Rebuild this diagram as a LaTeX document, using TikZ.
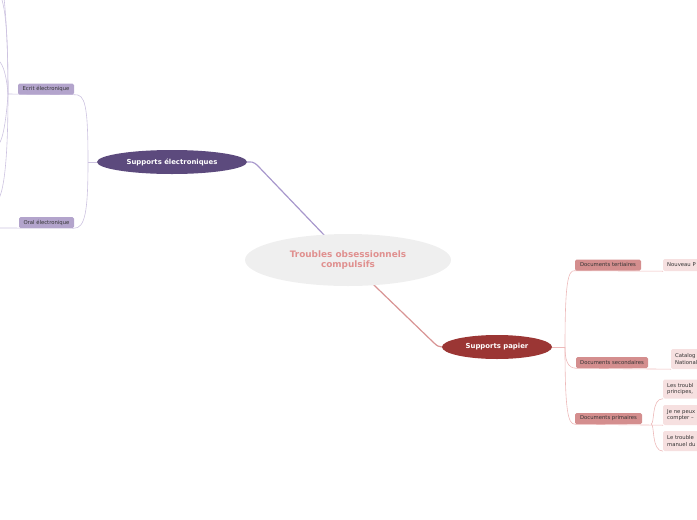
\documentclass[tikz,border=0pt]{standalone}
\usepackage{fontspec}
\setmainfont{DejaVu Sans}
\usetikzlibrary{shapes.geometric,backgrounds}
\definecolor{rootfill}{HTML}{EFEFEF}
\definecolor{roottext}{HTML}{E0908F}
\definecolor{purpmain}{HTML}{5C4A7D}
\definecolor{purpbox}{HTML}{B3A4CC}
\definecolor{purpline}{HTML}{CDC3E0}
\definecolor{purptrunk}{HTML}{A898CC}
\definecolor{redmain}{HTML}{9B3634}
\definecolor{rosebox}{HTML}{D48E8E}
\definecolor{pinkbox}{HTML}{F6E0E0}
\definecolor{roseline}{HTML}{EDBABA}
\definecolor{rosetrunk}{HTML}{D89494}
\definecolor{labeltext}{HTML}{333333}
\tikzset{
  rootnode/.style={ellipse,fill=rootfill,inner sep=0pt,minimum width=206pt,minimum height=52pt,
    align=center,text=roottext,font=\fontsize{8.9}{10}\selectfont\bfseries},
  mainnode/.style={ellipse,inner sep=0pt,minimum height=24pt,text=white,
    font=\fontsize{6.9}{8}\selectfont\bfseries},
  subbox/.style={rounded corners=1.5pt,inner sep=0pt,minimum height=11pt,text=labeltext,
    font=\fontsize{5.3}{6}\selectfont},
  leafbox/.style={rounded corners=1.5pt,anchor=west,inner xsep=4pt,inner ysep=0pt,
    text width=60pt,align=left,text=labeltext,font=\fontsize{5.3}{6.6}\selectfont},
  pline/.style={draw=purpline,line width=0.6pt},
  rline/.style={draw=roseline,line width=0.6pt},
}
\begin{document}
\begin{tikzpicture}[x=1pt,y=-1pt]
\useasboundingbox (0,0) rectangle (697,520);
\clip (0,0) rectangle (697,520);
% nodes
\node[rootnode] (root) at (348,260) {Troubles obsessionnels\\compulsifs};
\node[mainnode,fill=purpmain,minimum width=150pt] (se) at (172,162) {Supports électroniques};
\node[mainnode,fill=redmain,minimum width=110pt] (sp) at (497,347) {Supports papier};
\node[subbox,fill=purpbox,minimum width=56pt] (ecrit) at (46,89) {Ecrit électronique};
\node[subbox,fill=purpbox,minimum width=55pt] (oral) at (46.5,222.5) {Oral électronique};
\node[subbox,fill=rosebox,minimum width=66pt] (tert) at (608,265) {Documents tertiaires};
\node[subbox,fill=rosebox,minimum width=72pt] (sec) at (612,362.5) {Documents secondaires};
\node[subbox,fill=rosebox,minimum width=67pt] (prim) at (608.5,418.5) {Documents primaires};
\node[leafbox,fill=pinkbox,minimum height=12pt] (np) at (663,265) {Nouveau P};
\node[leafbox,fill=pinkbox,minimum height=20pt] (cat) at (671,359) {Catalog\\National};
\node[leafbox,fill=pinkbox,minimum height=19pt] (c1) at (663,389) {Les troubl\\principes,};
\node[leafbox,fill=pinkbox,minimum height=20pt] (c2) at (663,415) {Je ne peux\\compter –};
\node[leafbox,fill=pinkbox,minimum height=20pt] (c3) at (663,441) {Le trouble\\manuel du};
% free ends and junctions
\coordinate (eb) at (258,166);
\coordinate (pb) at (433,342);
\coordinate (lj) at (88,162);
\coordinate (ej) at (8,94);
\coordinate (oj) at (0,228);
\coordinate (rj) at (565,347);
\coordinate (pj) at (651,424);
\coordinate (e1) at (-2,-40);
\coordinate (e2) at (1,-3);
\coordinate (e3) at (-2,60);
\coordinate (e4) at (-2,145);
\coordinate (e5) at (-2,200);
\begin{pgfonlayer}{background}
  % trunks
  \draw[purptrunk,line width=1.2pt] (root.center) -- (eb) .. controls (253,161) and (251,162) .. (se.east);
  \draw[rosetrunk,line width=1.2pt] (root.center) -- (pb) .. controls (437,346) and (439,347) .. (sp.west);
  % left side
  \draw[pline] (se.west) -- (lj);
  \draw[pline] (lj) .. controls (88,104) and (85,94) .. (ecrit.south east);
  \draw[pline] (lj) .. controls (88,212) and (85,228) .. (oral.south east);
  \draw[pline] (ecrit.south east) -- (ej);
  \draw[pline] (oral.south east) -- (oj);
  \draw[pline] (ej) .. controls (8,20) and (3,-20) .. (e1);
  \draw[pline] (ej) .. controls (8,40) and (6,10) .. (e2);
  \draw[pline] (ej) .. controls (7,80) and (4,64) .. (e3);
  \draw[pline] (ej) .. controls (7,110) and (4,140) .. (e4);
  \draw[pline] (ej) .. controls (8,150) and (5,190) .. (e5);
  % right side
  \draw[rline] (sp.east) -- (rj);
  \draw[rline] (rj) .. controls (565,282) and (568,270) .. (tert.south west);
  \draw[rline] (rj) .. controls (565,361) and (568,368) .. (sec.south west);
  \draw[rline] (rj) .. controls (565,411) and (568,424) .. (prim.south west);
  \draw[rline] (tert.south west) -- (np.south west);
  \draw[rline] (sec.south west) -- (cat.south west);
  \draw[rline] (prim.south west) -- (c2.south west);
  \draw[rline] (pj) .. controls (655,424) and (651,398.5) .. (c1.south west);
  \draw[rline] (pj) .. controls (655,424) and (651,451) .. (c3.south west);
\end{pgfonlayer}
\end{tikzpicture}
\end{document}
